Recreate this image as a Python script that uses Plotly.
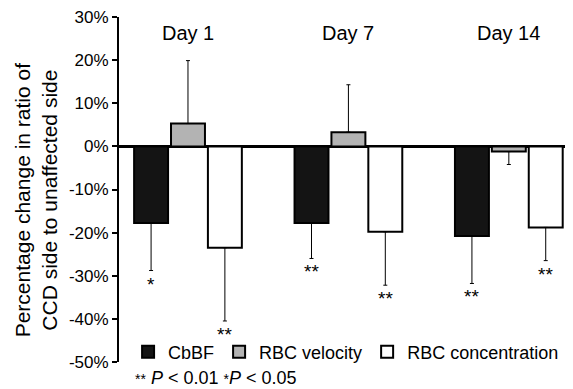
import plotly.graph_objects as go

days = ["Day 1", "Day 7", "Day 14"]
series_names = ["CbBF", "RBC velocity", "RBC concentration"]
cbbf = [-17.8, -17.8, -20.8]
cbbf_err = [11.0, 8.2, 11.0]
rbc_vel = [5.3, 3.3, -1.2]
rbc_vel_err = [14.6, 11.0, 3.0]
rbc_conc = [-23.5, -19.8, -18.8]
rbc_conc_err = [17.0, 12.4, 7.7]
stars = [["*", "**", "**"], ["", "", ""], ["**", "**", "**"]]
y_ticks = [30, 20, 10, 0, -10, -20, -30, -40, -50]
y_title = "Percentage change in ratio of<br>CCD side to unaffected side"

values = [cbbf, rbc_vel, rbc_conc]
errors = [cbbf_err, rbc_vel_err, rbc_conc_err]
fills = ["#141414", "#b3b3b3", "#ffffff"]

FONT = "Arial, Liberation Sans, Helvetica, sans-serif"
BARGAP = 0.31
BARGROUPGAP = 0.08

fig = go.Figure()
for name, vals, errs, fill in zip(series_names, values, errors, fills):
    up = [e if v >= 0 else 0 for v, e in zip(vals, errs)]
    down = [e if v < 0 else 0 for v, e in zip(vals, errs)]
    fig.add_trace(go.Bar(
        name=name, x=list(range(len(days))), y=vals,
        marker=dict(color=fill, line=dict(color="black", width=2)),
        error_y=dict(type="data", symmetric=False, array=up, arrayminus=down,
                     color="black", thickness=1, width=2),
    ))

# significance marks placed at the end of each error bar
slot = (1 - BARGAP) / len(series_names)
annotations = []
for k, (vals, errs, st) in enumerate(zip(values, errors, stars)):
    for i, (v, e, s) in enumerate(zip(vals, errs, st)):
        if not s:
            continue
        end = v - e if v < 0 else v + e
        annotations.append(dict(
            x=i + (k - (len(series_names) - 1) / 2) * slot, y=end,
            xref="x", yref="y", text=s, showarrow=False,
            yanchor="top", xanchor="center", yshift=-1,
            font=dict(family=FONT, size=19, color="black")))

for i, d in enumerate(days):
    annotations.append(dict(x=i, y=26.3, xref="x", yref="y", text=d,
                            showarrow=False, xanchor="center", yanchor="middle",
                            font=dict(family=FONT, size=20, color="black")))

annotations.append(dict(
    x=(133 - 119) / 454, y=-0.046, xref="paper", yref="paper",
    xanchor="left", yanchor="middle", showarrow=False,
    text="<span style='font-size:14px'>**</span> <i>P</i> &lt; 0.01 "
         "<span style='font-size:14px'>*</span><i>P</i> &lt; 0.05",
    font=dict(family=FONT, size=18, color="black")))

# y-axis title
annotations.append(dict(
    x=-0.184, y=0.47, xref="paper", yref="paper", textangle=-90,
    xanchor="center", yanchor="middle", showarrow=False, text=y_title,
    font=dict(family=FONT, size=21, color="black")))

# the page body adds an 8px offset, so the figure is 8px smaller
fig.update_layout(
    width=565, height=381,
    margin=dict(l=111, r=0, t=9, b=27),
    paper_bgcolor="white", plot_bgcolor="white",
    barmode="group", bargap=BARGAP, bargroupgap=BARGROUPGAP,
    font=dict(family=FONT, color="black"),
    showlegend=True,
    legend=dict(orientation="h", x=0.02, y=0.029, xanchor="left", yanchor="middle",
                bgcolor="rgba(0,0,0,0)", font=dict(family=FONT, size=18),
                traceorder="normal"),
    annotations=annotations,
    xaxis=dict(range=[-0.43, 2.4], showticklabels=False, showgrid=False,
               zeroline=False, showline=False, ticks="", automargin=False),
    yaxis=dict(range=[-50.02, 30.02], tickvals=y_ticks,
               ticktext=[f"{v}%" for v in y_ticks],
               showgrid=False, showline=True, linecolor="black", linewidth=2,
               ticks="outside", ticklen=5, tickwidth=2, tickcolor="black",
               zeroline=True, zerolinecolor="black", zerolinewidth=2.5,
               automargin=False,
               tickfont=dict(family=FONT, size=17)),
)

fig.write_html("out.html")
